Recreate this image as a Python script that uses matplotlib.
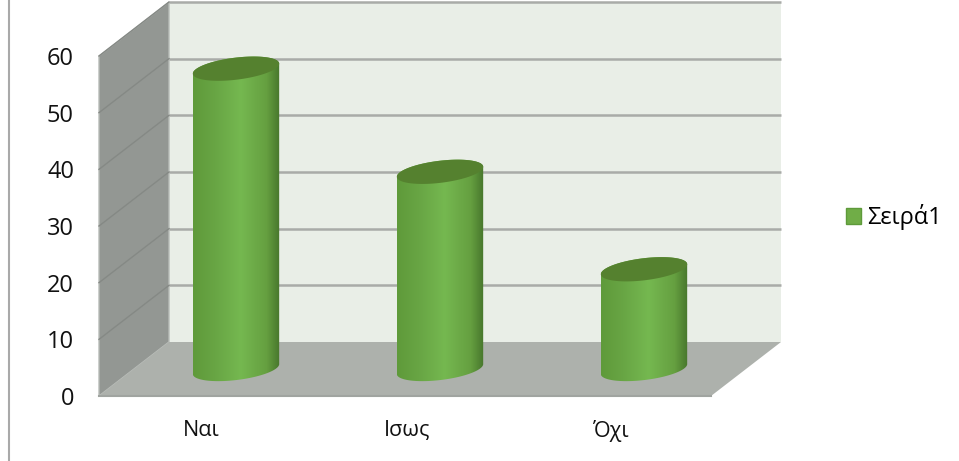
import numpy as np
import matplotlib
matplotlib.use('Agg')
import matplotlib.pyplot as plt
from matplotlib.colors import LinearSegmentedColormap
from matplotlib.lines import Line2D
from matplotlib.patches import Patch, Polygon

categories = ['Ναι', 'Ισως', 'Όχι']
values = [53, 34.8, 17.6]
series_name = 'Σειρά1'
y_ticks = [0, 10, 20, 30, 40, 50, 60]

W, H = 959, 461
LEFT, RIGHT, BOTTOM, TOP = 99, 711, 396, 56

# size of one data unit in pixels
PX_X = (RIGHT - LEFT) / 3
PX_Y = (BOTTOM - TOP) / 60

# offset of the back wall
DX = 70 / PX_X
DY = 54 / PX_Y

plt.rcParams['font.family'] = ['Open Sans', 'DejaVu Sans']

fig = plt.figure(figsize=(W / 100, H / 100), dpi=100)
ax = fig.add_axes([LEFT / W, (H - BOTTOM) / H, (RIGHT - LEFT) / W, (BOTTOM - TOP) / H])
ax.set_xlim(0, 3)
ax.set_ylim(0, 60)
for s in ax.spines.values():
    s.set_visible(False)
ax.patch.set_visible(False)


def add_poly(pts, color, z, edge='none', lw=0):
    p = Polygon(pts, closed=True, facecolor=color, edgecolor=edge, linewidth=lw, zorder=z, clip_on=False)
    ax.add_patch(p)
    return p


# walls and floor
add_poly([(DX, DY), (3 + DX, DY), (3 + DX, 60 + DY), (DX, 60 + DY)], '#e9eee7', 1)
add_poly([(0, 0), (DX, DY), (DX, 60 + DY), (0, 60)], '#939793', 1, '#b8bcb8', 1)
add_poly([(0, 0), (3, 0), (3 + DX, DY), (DX, DY)], '#adb1ac', 2)

for v in y_ticks[1:]:
    ax.plot([DX, 3 + DX], [v + DY, v + DY], color='#a9aba8', lw=1.8, zorder=1.5, clip_on=False,
            solid_capstyle='butt')
    ax.plot([0, DX], [v, v + DY], color='#858985', lw=1.0, zorder=1.5, clip_on=False)
ax.plot([0, 3], [0, 0], color='#a0a4a0', lw=1.5, zorder=2.5, clip_on=False)

# cylinders
RX, RY = 43.5, 11.0
TILT = np.radians(7)
cyl = LinearSegmentedColormap.from_list('cyl', [
    (0.0, '#5f9a3a'), (0.25, '#68a544'), (0.55, '#75b850'), (0.85, '#659f40'), (1.0, '#47762c')])
grad = np.linspace(0, 1, 256).reshape(1, -1)


def ellipse(cx, cy, t):
    u = RX * np.cos(t) * np.cos(TILT) - RY * np.sin(t) * np.sin(TILT)
    v = RX * np.cos(t) * np.sin(TILT) + RY * np.sin(t) * np.cos(TILT)
    return np.column_stack([cx + u / PX_X, cy + v / PX_Y])


for i, val in enumerate(values):
    cx = i + 0.5 + DX / 2
    cy = DY / 2
    top_half = ellipse(cx, cy + val, np.linspace(np.pi, 0, 60))
    low_half = ellipse(cx, cy, np.linspace(0, -np.pi, 60))
    body = add_poly(np.vstack([top_half, low_half]), 'none', 3)
    x0, x1 = cx - RX / PX_X, cx + RX / PX_X
    im = ax.imshow(grad, cmap=cyl, extent=[x0, x1, cy - 3, cy + val + 3], aspect='auto', zorder=3,
                   clip_on=True, interpolation='bilinear')
    im.set_clip_path(body)
    add_poly(ellipse(cx, cy + val, np.linspace(0, 2 * np.pi, 120)), '#55812f', 4)

ax.set_xlim(0, 3)
ax.set_ylim(0, 60)

ax.set_yticks(y_ticks)
ax.set_xticks([0.5, 1.51, 2.51])
ax.set_xticklabels(categories)
ax.tick_params(axis='y', length=0, pad=18, labelsize=17, labelcolor='#111111')
ax.tick_params(axis='x', length=0, pad=17, labelsize=15.5, labelcolor='#111111')

ax.legend(handles=[Patch(facecolor='#70ad47', edgecolor='#5e9a3a', label=series_name)],
          loc='center left', bbox_to_anchor=(846 / W, (H - 217) / H),
          bbox_transform=fig.transFigure, frameon=False, fontsize=17,
          handlelength=0.64, handleheight=0.64, handletextpad=0.25, borderpad=0, borderaxespad=0)

# thin border on the left of the frame
fig.add_artist(Line2D([8.5 / W, 8.5 / W], [1 / H, 1], color='#a9a9a9', lw=1.5))

fig.savefig('out.png', dpi=100)
